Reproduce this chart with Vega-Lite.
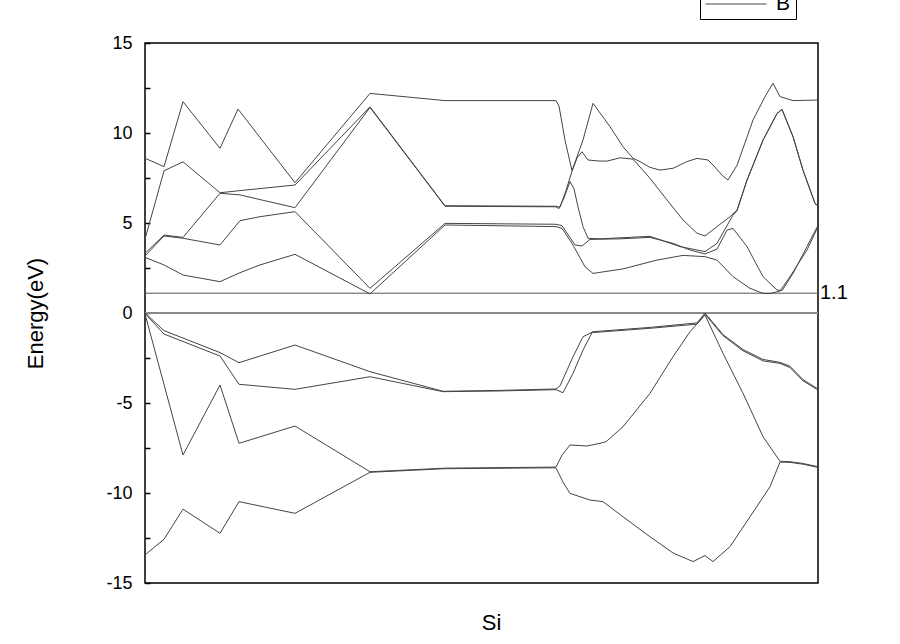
{
"$schema": "https://vega.github.io/schema/vega-lite/v6.json",
"width": 673, "height": 540,
"autosize": {"type": "none"},
"padding": {"left": 145, "top": 43, "right": 82, "bottom": 61},
"background": "#ffffff",
"config": {"view": {"stroke": "#000000", "strokeWidth": 1.5}, "font": "Liberation Sans"},
"datasets": {
"bands": [
{"b":"V1","k":0,"e":-13.44},{"b":"V1","k":19,"e":-12.57},{"b":"V1","k":38,"e":-10.9},{"b":"V1","k":75,"e":-12.24},{"b":"V1","k":94,"e":-10.48},{"b":"V1","k":150,"e":-11.13},{"b":"V1","k":225,"e":-8.85},{"b":"V1","k":300,"e":-8.65},{"b":"V1","k":411,"e":-8.6},{"b":"V1","k":418,"e":-9.4},{"b":"V1","k":425,"e":-10.02},{"b":"V1","k":445,"e":-10.39},{"b":"V1","k":458,"e":-10.48},{"b":"V1","k":478,"e":-11.32},{"b":"V1","k":505,"e":-12.43},{"b":"V1","k":528,"e":-13.33},{"b":"V1","k":548,"e":-13.81},{"b":"V1","k":560,"e":-13.48},{"b":"V1","k":568,"e":-13.81},{"b":"V1","k":585,"e":-12.98},{"b":"V1","k":605,"e":-11.32},{"b":"V1","k":625,"e":-9.65},{"b":"V1","k":635,"e":-8.28},{"b":"V1","k":645,"e":-8.3},{"b":"V1","k":658,"e":-8.4},{"b":"V1","k":673,"e":-8.58},
{"b":"V2","k":0,"e":-0.05},{"b":"V2","k":38,"e":-7.89},{"b":"V2","k":75,"e":-4.0},{"b":"V2","k":94,"e":-7.24},{"b":"V2","k":150,"e":-6.28},{"b":"V2","k":225,"e":-8.82},{"b":"V2","k":300,"e":-8.62},{"b":"V2","k":411,"e":-8.56},{"b":"V2","k":417,"e":-7.9},{"b":"V2","k":425,"e":-7.33},{"b":"V2","k":442,"e":-7.39},{"b":"V2","k":455,"e":-7.24},{"b":"V2","k":461,"e":-7.15},{"b":"V2","k":478,"e":-6.32},{"b":"V2","k":505,"e":-4.46},{"b":"V2","k":528,"e":-2.43},{"b":"V2","k":545,"e":-1.04},{"b":"V2","k":560,"e":-0.11},{"b":"V2","k":578,"e":-2.24},{"b":"V2","k":598,"e":-4.46},{"b":"V2","k":618,"e":-6.87},{"b":"V2","k":635,"e":-8.24},{"b":"V2","k":645,"e":-8.26},{"b":"V2","k":658,"e":-8.36},{"b":"V2","k":673,"e":-8.54},
{"b":"V3","k":0,"e":-0.02},{"b":"V3","k":19,"e":-1.17},{"b":"V3","k":75,"e":-2.39},{"b":"V3","k":94,"e":-3.96},{"b":"V3","k":150,"e":-4.24},{"b":"V3","k":225,"e":-3.54},{"b":"V3","k":298,"e":-4.37},{"b":"V3","k":355,"e":-4.33},{"b":"V3","k":411,"e":-4.26},{"b":"V3","k":418,"e":-4.43},{"b":"V3","k":428,"e":-3.35},{"b":"V3","k":438,"e":-2.06},{"b":"V3","k":447,"e":-1.09},{"b":"V3","k":505,"e":-0.85},{"b":"V3","k":552,"e":-0.62},{"b":"V3","k":560,"e":-0.07},{"b":"V3","k":578,"e":-1.26},{"b":"V3","k":598,"e":-2.1},{"b":"V3","k":618,"e":-2.66},{"b":"V3","k":635,"e":-2.8},{"b":"V3","k":645,"e":-3.03},{"b":"V3","k":658,"e":-3.77},{"b":"V3","k":673,"e":-4.28},
{"b":"V4","k":0,"e":0},{"b":"V4","k":19,"e":-0.98},{"b":"V4","k":75,"e":-2.2},{"b":"V4","k":94,"e":-2.76},{"b":"V4","k":150,"e":-1.78},{"b":"V4","k":225,"e":-3.26},{"b":"V4","k":298,"e":-4.35},{"b":"V4","k":355,"e":-4.3},{"b":"V4","k":411,"e":-4.22},{"b":"V4","k":415,"e":-4.05},{"b":"V4","k":428,"e":-2.43},{"b":"V4","k":438,"e":-1.32},{"b":"V4","k":448,"e":-1.04},{"b":"V4","k":505,"e":-0.8},{"b":"V4","k":552,"e":-0.55},{"b":"V4","k":560,"e":0},{"b":"V4","k":578,"e":-1.2},{"b":"V4","k":598,"e":-2.03},{"b":"V4","k":618,"e":-2.58},{"b":"V4","k":635,"e":-2.74},{"b":"V4","k":645,"e":-2.96},{"b":"V4","k":658,"e":-3.7},{"b":"V4","k":673,"e":-4.22},
{"b":"C1","k":0,"e":3.09},{"b":"C1","k":19,"e":2.67},{"b":"C1","k":38,"e":2.11},{"b":"C1","k":75,"e":1.74},{"b":"C1","k":95,"e":2.24},{"b":"C1","k":115,"e":2.67},{"b":"C1","k":150,"e":3.26},{"b":"C1","k":225,"e":1.06},{"b":"C1","k":300,"e":4.89},{"b":"C1","k":411,"e":4.8},{"b":"C1","k":417,"e":4.7},{"b":"C1","k":427,"e":3.87},{"b":"C1","k":440,"e":2.57},{"b":"C1","k":448,"e":2.2},{"b":"C1","k":478,"e":2.45},{"b":"C1","k":512,"e":2.94},{"b":"C1","k":538,"e":3.2},{"b":"C1","k":560,"e":3.13},{"b":"C1","k":572,"e":2.94},{"b":"C1","k":588,"e":2.02},{"b":"C1","k":605,"e":1.37},{"b":"C1","k":618,"e":1.09},{"b":"C1","k":625,"e":1.08},{"b":"C1","k":635,"e":1.22},{"b":"C1","k":645,"e":2.02},{"b":"C1","k":662,"e":3.5},{"b":"C1","k":673,"e":4.8},
{"b":"C2","k":0,"e":3.17},{"b":"C2","k":19,"e":4.28},{"b":"C2","k":38,"e":4.15},{"b":"C2","k":75,"e":3.78},{"b":"C2","k":95,"e":5.13},{"b":"C2","k":115,"e":5.35},{"b":"C2","k":150,"e":5.63},{"b":"C2","k":225,"e":1.37},{"b":"C2","k":300,"e":4.98},{"b":"C2","k":411,"e":4.93},{"b":"C2","k":417,"e":4.85},{"b":"C2","k":430,"e":3.78},{"b":"C2","k":437,"e":3.72},{"b":"C2","k":445,"e":4.09},{"b":"C2","k":475,"e":4.12},{"b":"C2","k":505,"e":4.2},{"b":"C2","k":528,"e":3.87},{"b":"C2","k":545,"e":3.5},{"b":"C2","k":560,"e":3.28},{"b":"C2","k":572,"e":3.55},{"b":"C2","k":582,"e":4.6},{"b":"C2","k":588,"e":4.7},{"b":"C2","k":602,"e":3.69},{"b":"C2","k":618,"e":2.02},{"b":"C2","k":632,"e":1.28},{"b":"C2","k":637,"e":1.24},{"b":"C2","k":648,"e":2.2},{"b":"C2","k":662,"e":3.69},{"b":"C2","k":673,"e":4.87},
{"b":"C3","k":0,"e":3.31},{"b":"C3","k":19,"e":4.33},{"b":"C3","k":38,"e":4.2},{"b":"C3","k":75,"e":6.65},{"b":"C3","k":95,"e":6.56},{"b":"C3","k":150,"e":5.85},{"b":"C3","k":225,"e":11.42},{"b":"C3","k":300,"e":5.93},{"b":"C3","k":411,"e":5.9},{"b":"C3","k":414,"e":5.8},{"b":"C3","k":419,"e":6.4},{"b":"C3","k":425,"e":7.3},{"b":"C3","k":429,"e":6.9},{"b":"C3","k":433,"e":5.9},{"b":"C3","k":438,"e":4.8},{"b":"C3","k":443,"e":4.15},{"b":"C3","k":455,"e":4.12},{"b":"C3","k":505,"e":4.26},{"b":"C3","k":535,"e":3.69},{"b":"C3","k":560,"e":3.41},{"b":"C3","k":572,"e":3.87},{"b":"C3","k":588,"e":5.44},{"b":"C3","k":592,"e":5.68},{"b":"C3","k":602,"e":7.37},{"b":"C3","k":618,"e":9.59},{"b":"C3","k":632,"e":11.07},{"b":"C3","k":637,"e":11.3},{"b":"C3","k":648,"e":9.79},{"b":"C3","k":658,"e":7.93},{"b":"C3","k":670,"e":6.08},{"b":"C3","k":673,"e":5.94},
{"b":"C4","k":0,"e":4.1},{"b":"C4","k":19,"e":7.9},{"b":"C4","k":38,"e":8.4},{"b":"C4","k":75,"e":6.68},{"b":"C4","k":95,"e":6.8},{"b":"C4","k":150,"e":7.11},{"b":"C4","k":225,"e":11.45},{"b":"C4","k":300,"e":5.96},{"b":"C4","k":411,"e":5.93},{"b":"C4","k":415,"e":5.87},{"b":"C4","k":421,"e":6.8},{"b":"C4","k":427,"e":7.88},{"b":"C4","k":432,"e":8.6},{"b":"C4","k":437,"e":8.96},{"b":"C4","k":443,"e":8.5},{"b":"C4","k":455,"e":8.44},{"b":"C4","k":462,"e":8.44},{"b":"C4","k":475,"e":8.62},{"b":"C4","k":488,"e":8.55},{"b":"C4","k":505,"e":7.48},{"b":"C4","k":522,"e":6.28},{"b":"C4","k":538,"e":5.17},{"b":"C4","k":552,"e":4.43},{"b":"C4","k":560,"e":4.28},{"b":"C4","k":572,"e":4.8},{"b":"C4","k":585,"e":5.35},{"b":"C4","k":592,"e":5.72},{"b":"C4","k":602,"e":7.39},{"b":"C4","k":618,"e":9.61},{"b":"C4","k":632,"e":11.09},{"b":"C4","k":637,"e":11.32},{"b":"C4","k":648,"e":9.8},{"b":"C4","k":658,"e":7.94},{"b":"C4","k":670,"e":6.09},{"b":"C4","k":673,"e":5.96},
{"b":"C5","k":0,"e":8.6},{"b":"C5","k":19,"e":8.13},{"b":"C5","k":38,"e":11.74},{"b":"C5","k":75,"e":9.15},{"b":"C5","k":93,"e":11.33},{"b":"C5","k":150,"e":7.24},{"b":"C5","k":225,"e":12.2},{"b":"C5","k":300,"e":11.8},{"b":"C5","k":411,"e":11.8},{"b":"C5","k":414,"e":11.5},{"b":"C5","k":420,"e":9.6},{"b":"C5","k":427,"e":7.9},{"b":"C5","k":438,"e":9.61},{"b":"C5","k":448,"e":11.65},{"b":"C5","k":465,"e":10.35},{"b":"C5","k":478,"e":9.24},{"b":"C5","k":488,"e":8.6},{"b":"C5","k":495,"e":8.41},{"b":"C5","k":505,"e":8.09},{"b":"C5","k":515,"e":7.94},{"b":"C5","k":528,"e":8.04},{"b":"C5","k":542,"e":8.41},{"b":"C5","k":552,"e":8.59},{"b":"C5","k":563,"e":8.5},{"b":"C5","k":568,"e":8.22},{"b":"C5","k":578,"e":7.6},{"b":"C5","k":583,"e":7.39},{"b":"C5","k":592,"e":8.2},{"b":"C5","k":608,"e":10.72},{"b":"C5","k":620,"e":12.02},{"b":"C5","k":628,"e":12.76},{"b":"C5","k":635,"e":12.02},{"b":"C5","k":648,"e":11.8},{"b":"C5","k":673,"e":11.83}
]
},
"layer": [
{
"data": {"values": [{"e": 0}]},
"mark": {"type": "rule", "color": "#8a8a8a", "strokeWidth": 2},
"encoding": {"y": {"field": "e", "type": "quantitative", "scale": {"domain": [-15, 15], "nice": false, "zero": false}}}
},
{
"data": {"values": [{"e": 1.1}]},
"mark": {"type": "rule", "color": "#555555", "strokeWidth": 1},
"encoding": {"y": {"field": "e", "type": "quantitative"}}
},
{
"data": {"name": "bands"},
"mark": {"type": "line", "strokeWidth": 1, "clip": true},
"encoding": {
"x": {"field": "k", "type": "quantitative", "scale": {"domain": [0, 673], "nice": false, "zero": false},
"axis": {"title": "Si", "labels": false, "ticks": false, "domain": false, "grid": false, "titleFontSize": 22, "titleFontWeight": "normal", "titleColor": "#000000", "titleX": 346, "titleY": 39, "titleBaseline": "middle", "titleAnchor": null}},
"y": {"field": "e", "type": "quantitative", "scale": {"domain": [-15, 15], "nice": false, "zero": false},
"axis": {"title": "Energy(eV)", "values": [-15, -12.5, -10, -7.5, -5, -2.5, 0, 2.5, 5, 7.5, 10, 12.5, 15], "labelExpr": "datum.value % 5 === 0 ? '' + datum.value : ''", "tickSize": -5, "tickColor": "#000000", "tickWidth": 1.5, "labelPadding": 18, "labelFontSize": 18, "labelColor": "#000000", "domain": false, "grid": false, "titleFontSize": 22, "titleFontWeight": "normal", "titleColor": "#000000", "titleX": -110, "titleY": 270, "titleAngle": 270, "titleBaseline": "middle", "titleAlign": "center"}},
"detail": {"field": "b", "type": "nominal"},
"color": {"datum": "B", "type": "nominal", "scale": {"range": ["#444444"]},
"legend": {"orient": "none", "legendX": 555, "legendY": -54, "title": null, "symbolType": "stroke", "symbolSize": 3721, "symbolStrokeWidth": 1, "symbolStrokeColor": "#777777", "clipHeight": 20, "labelFontSize": 21, "labelColor": "#000000", "labelOffset": 9, "strokeColor": "#000000", "fillColor": "#ffffff", "padding": 5}}
}
},
{
"data": {"values": [{"k": 673, "e": 1.1, "t": "1.1"}]},
"mark": {"type": "text", "align": "left", "baseline": "middle", "dx": 2, "fontSize": 20, "color": "#000000"},
"encoding": {
"x": {"field": "k", "type": "quantitative"},
"y": {"field": "e", "type": "quantitative"},
"text": {"field": "t"}
}
}
]
}
